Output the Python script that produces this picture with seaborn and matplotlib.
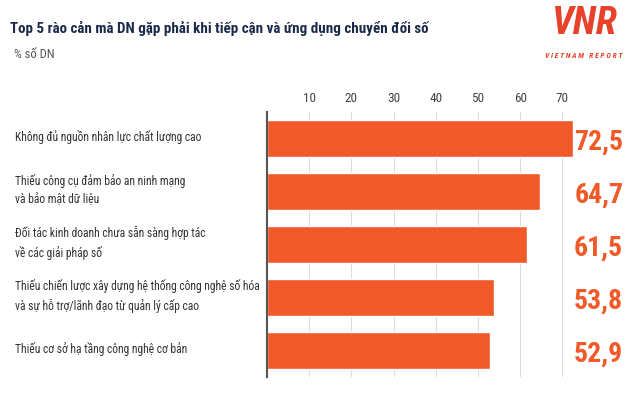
import matplotlib
matplotlib.use("Agg")
import matplotlib.pyplot as plt
import matplotlib.transforms as mtransforms
import seaborn as sns
import pandas as pd

categories = [
    "Không đủ nguồn nhân lực chất lượng cao",
    "Thiếu công cụ đảm bảo an ninh mạng\nvà bảo mật dữ liệu",
    "Đối tác kinh doanh chưa sẵn sàng hợp tác\nvề các giải pháp số",
    "Thiếu chiến lược xây dựng hệ thống công nghệ số hóa\nvà sự hỗ trợ/lãnh đạo từ quản lý cấp cao",
    "Thiếu cơ sở hạ tầng công nghệ cơ bản",
]
values = [72.5, 64.7, 61.5, 53.8, 52.9]
value_labels = ["72,5", "64,7", "61,5", "53,8", "52,9"]
xticks = [10, 20, 30, 40, 50, 60, 70]

sns.set_theme(style="white")
FAM = ["Roboto Condensed", "DejaVu Sans"]
plt.rcParams["font.family"] = FAM

ORANGE = "#F05A28"
df = pd.DataFrame({"cat": categories, "val": values})

fig = plt.figure(figsize=(6.30, 4.01), dpi=100)
ax = fig.add_axes([267/630, 1-377/401, 316.5/630, 265/401])
sns.barplot(data=df, x="val", y="cat", orient="h", color=ORANGE, width=0.7,
            saturation=1, ax=ax)
ax.set_xlim(0, 75)
ax.set_ylim(4.5, -0.5)
ax.set_xlabel("")
ax.set_ylabel("")
ax.set_yticks([])
ax.set_xticks(xticks)
ax.xaxis.tick_top()
ax.tick_params(axis="x", length=0, pad=5, labelsize=9.5, labelcolor="#444444")
for t in xticks:
    ax.axvline(t, color="#dcdcdc", lw=0.8, zorder=0)
ax.set_axisbelow(True)
for s in ["top", "right", "bottom"]:
    ax.spines[s].set_visible(False)
ax.spines["left"].set_color("#555555")
ax.spines["left"].set_linewidth(1.5)

blend = mtransforms.blended_transform_factory(fig.transFigure, ax.transData)
cat_texts = []
for i, (c, lab) in enumerate(zip(categories, value_labels)):
    ax.text(84.4, i + 0.06, lab, ha="right", va="center", fontsize=20,
            fontweight="bold", color=ORANGE, clip_on=False)
    cat_texts.append(ax.text(15/630, i - 0.03, c, transform=blend,
                             ha="left", va="center", fontsize=9.3, color="#333333",
                             linespacing=1.55, clip_on=False))

title = fig.text(10/630, 1-28/401,
                 "Top 5 rào cản mà DN gặp phải khi tiếp cận và ứng dụng chuyển đổi số",
                 ha="left", va="center", fontsize=15, fontweight="bold", color="#1b2a4a")
fig.text(14/630, 1-55/401, "% số DN", ha="left", va="center", fontsize=9,
         color="#555555")

# fit title and label widths to the reference
fig.canvas.draw()
w = title.get_window_extent().width
title.set_fontsize(15 * 415 / w)
w0 = cat_texts[0].get_window_extent().width
fs = 9.3 * 190 / w0
for t in cat_texts:
    t.set_fontsize(fs)

# logo
fig.text(584/630, 1-24/401, "VNR", ha="center", va="center", fontsize=28,
         fontweight="bold", color="#E8412C", style="italic")
fig.text(584/630, 1-56/401, "V I E T N A M   R E P O R T", ha="center", va="center",
         fontsize=5.5, fontweight="bold", color="#E8412C", style="italic")

fig.savefig("out.png", dpi=100)
